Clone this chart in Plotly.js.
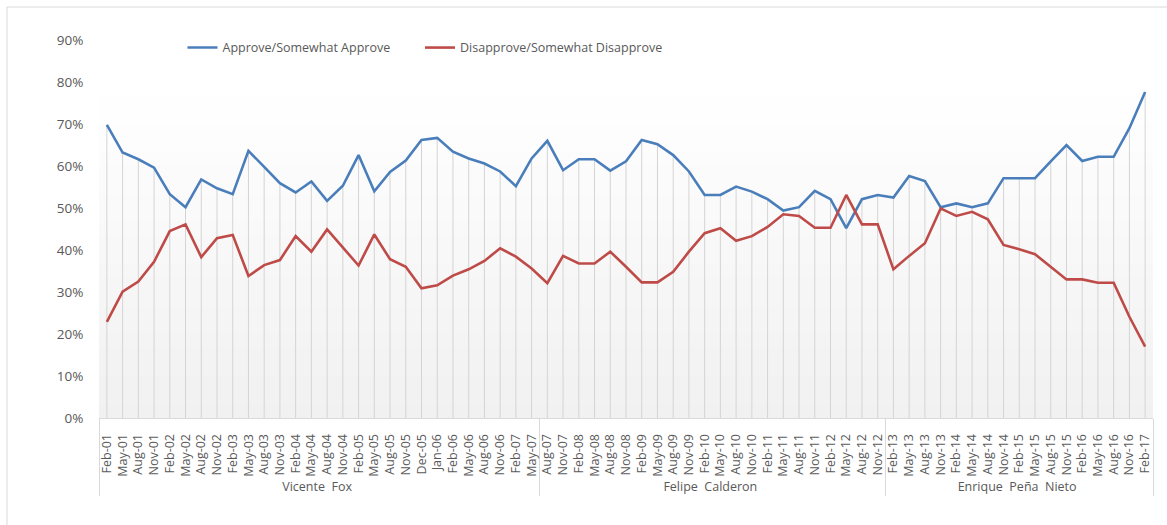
<!DOCTYPE html>
<html>
<head>
<meta charset="utf-8">
<script src="https://cdn.plot.ly/plotly-3.0.1.min.js"></script>
<style>html,body{margin:0;padding:0;background:#fff}#chart{width:1167px;height:525px}</style>
</head>
<body>
<div id="chart"></div>
<script>
const months = ["Feb-01","May-01","Aug-01","Nov-01","Feb-02","May-02","Aug-02","Nov-02","Feb-03","May-03","Aug-03","Nov-03","Feb-04","May-04","Aug-04","Nov-04","Feb-05","May-05","Aug-05","Nov-05","Dec-05","Jan-06","Feb-06","May-06","Aug-06","Nov-06","Feb-07","May-07",
"Aug-07","Nov-07","Feb-08","May-08","Aug-08","Nov-08","Feb-09","May-09","Aug-09","Nov-09","Feb-10","May-10","Aug-10","Nov-10","Feb-11","May-11","Aug-11","Nov-11","Feb-12","May-12","Aug-12","Nov-12",
"Feb-13","May-13","Aug-13","Nov-13","Feb-14","May-14","Aug-14","Nov-14","Feb-15","May-15","Aug-15","Nov-15","Feb-16","May-16","Aug-16","Nov-16","Feb-17"];
const presidents = ["Vicente  Fox","Felipe  Calderon","Enrique  Peña  Nieto"];
const termLengths = [28,22,17];
const approve = [69.8,63.2,61.6,59.6,53.3,50.2,56.8,54.7,53.3,63.6,59.8,55.9,53.7,56.3,51.7,55.3,62.6,54.0,58.6,61.3,66.2,66.7,63.4,61.8,60.6,58.7,55.2,61.8,
66.0,59.0,61.6,61.6,58.9,61.1,66.2,65.2,62.6,58.7,53.1,53.1,55.1,53.9,52.1,49.4,50.2,54.1,52.1,45.2,52.1,53.1,
52.5,57.6,56.4,50.2,51.1,50.2,51.1,57.1,57.1,57.1,61.1,65.0,61.2,62.2,62.2,69.0,77.6];
const disapprove = [22.9,30.1,32.5,37.2,44.5,46.1,38.3,42.8,43.6,33.8,36.4,37.6,43.3,39.6,44.9,40.5,36.3,43.7,37.8,36.0,30.9,31.6,33.9,35.4,37.4,40.4,38.4,35.6,
32.1,38.6,36.8,36.8,39.6,36.0,32.3,32.3,34.8,39.6,44.0,45.2,42.2,43.3,45.5,48.5,48.1,45.3,45.3,53.1,46.1,46.1,
35.4,38.6,41.6,49.9,48.1,49.1,47.3,41.2,40.2,39.0,36.0,33.0,33.0,32.2,32.2,24.1,17.0];
const seriesNames = ["Approve/Somewhat Approve","Disapprove/Somewhat Disapprove"];

const groupCol = [];
presidents.forEach((p,i)=>{ for(let k=0;k<termLengths[i];k++) groupCol.push(p); });
const xMulti = [groupCol, months];
const dropTop = approve.map((v,i)=>Math.max(v, disapprove[i]));

const FONT = "Open Sans, Noto Sans, sans-serif";
const traces = [
  {x:xMulti, y:dropTop, type:'scatter', mode:'markers', marker:{size:0.1, color:'rgba(0,0,0,0)'}, showlegend:false, hoverinfo:'skip',
   error_y:{type:'data', symmetric:false, array:dropTop.map(()=>0), arrayminus:dropTop, color:'#d4d4d4', thickness:1, width:0}},
  {x:xMulti, y:approve, type:'scatter', mode:'lines', name:seriesNames[0], legend:'legend', line:{color:'#4a7ebb', width:2.6}},
  {x:xMulti, y:disapprove, type:'scatter', mode:'lines', name:seriesNames[1], legend:'legend2', line:{color:'#be4b48', width:2.6}}
];

// subtle vertical gradient in plot area
const shapes = [];
const nb = 24;
for (let i=0;i<nb;i++){
  const t = i/(nb-1);
  const c = Math.round(255 - 14*(1-t));
  shapes.push({type:'rect', xref:'paper', yref:'paper', x0:0, x1:1, y0:(0.889*i/nb), y1:(0.889*(i+1)/nb), fillcolor:`rgb(${c},${c},${c})`, line:{width:0}, layer:'below'});
}
// outer chart border (left and top visible)
shapes.push({type:'rect', xref:'paper', yref:'paper', x0:(7-99)/1054, x1:1.05, y0:-0.3, y1:(418-7)/378, line:{color:'#d9d9d9', width:1}, fillcolor:'rgba(0,0,0,0)'});

const legFont = {family:FONT, size:12.5, color:'#595959'};
const layout = {
  width:1167, height:525,
  margin:{l:99, r:14, t:40, b:107},
  paper_bgcolor:'#ffffff', plot_bgcolor:'rgba(0,0,0,0)',
  font:{family:FONT, color:'#595959', size:12},
  showlegend:true,
  legend:{orientation:'h', x:0.0792, xanchor:'left', y:0.979, yanchor:'middle', font:legFont, bgcolor:'rgba(0,0,0,0)'},
  legend2:{orientation:'h', x:(420-99)/1054, xanchor:'left', y:0.979, yanchor:'middle', font:legFont, bgcolor:'rgba(0,0,0,0)'},
  xaxis:{type:'multicategory', range:[-0.5, 66.5], tickangle:-90, showgrid:false, ticklabelstandoff:10,
         showline:true, linecolor:'#d9d9d9', ticks:'', tickfont:{family:FONT, size:12.5, color:'#595959'},
         showdividers:true, dividercolor:'#d9d9d9', dividerwidth:1, zeroline:false},
  yaxis:{range:[0,90], dtick:10, ticksuffix:'%', showgrid:false, zeroline:false, showline:false,
         tickfont:{family:FONT, size:13.5, color:'#595959'}, ticks:'outside', ticklen:12, tickcolor:'rgba(0,0,0,0)'},
  shapes:shapes
};
Plotly.newPlot('chart', traces, layout, {displayModeBar:false, staticPlot:true});
</script>
</body>
</html>
